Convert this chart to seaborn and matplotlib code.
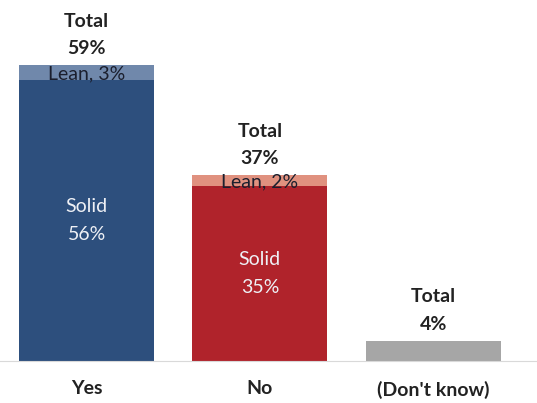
import matplotlib
matplotlib.use('Agg')
import matplotlib.pyplot as plt
import seaborn as sns

categories = ['Yes', 'No', "(Don't know)"]
solid = [56, 35, 4]
lean = [3, 2, 0]
totals = [59, 37, 4]

solid_colors = ['#2d4f7d', '#b0232b', '#a6a6a6']
lean_colors = ['#7088ab', '#e0917f', '#a6a6a6']

sns.set_style('white')
plt.rcParams['font.family'] = ['Lato', 'DejaVu Sans']

fig = plt.figure(figsize=(5.37, 4.03), dpi=100)
ax = fig.add_axes([0, 1 - 361/403, 1, 361/403])

# full bar (solid + lean) in the lean colour, then solid drawn over it
sns.barplot(x=categories, y=totals, hue=categories, palette=lean_colors,
            legend=False, width=0.78, saturation=1, linewidth=0, ax=ax)
sns.barplot(x=categories, y=solid, hue=categories, palette=solid_colors,
            legend=False, width=0.78, saturation=1, linewidth=0, ax=ax)

ax.set_ylim(0, 72)
ax.set_xlim(-0.5, 2.6)
ax.set_ylabel('')
ax.set_yticks([])

for i in range(len(categories)):
    ax.text(i, totals[i] + 1.6, 'Total\n%d%%' % totals[i], ha='center', va='bottom',
            fontsize=14, fontweight='bold', color='#222222', linespacing=1.75)
    if lean[i] > 0:
        ax.text(i, solid[i] + lean[i] / 2 - 0.3, 'Lean, %d%%' % lean[i], ha='center', va='center',
                fontsize=14, color='#1b1f2e')
        ax.text(i, solid[i] / 2, 'Solid\n%d%%' % solid[i], ha='center', va='center',
                fontsize=14, color='#eef0f5', linespacing=1.75)

sns.despine(ax=ax, left=True)
ax.spines['bottom'].set_color('#d9d9d9')
ax.tick_params(axis='x', length=0, pad=14)
for lbl in ax.get_xticklabels():
    lbl.set_fontsize(14)
    lbl.set_fontweight('bold')
    lbl.set_color('#222222')

fig.savefig('out.png', dpi=100)
